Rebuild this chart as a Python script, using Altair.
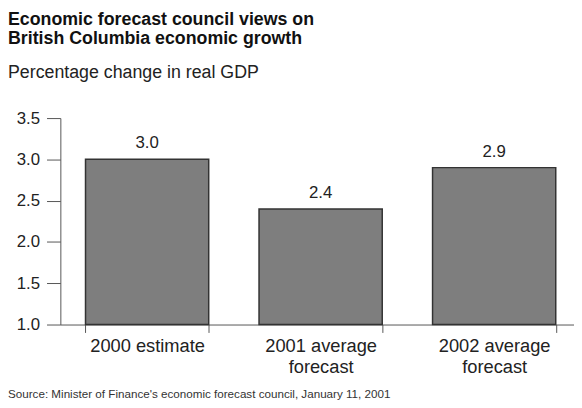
import altair as alt
import pandas as pd

categories = ["2000 estimate", "2001 average forecast", "2002 average forecast"]
values = [3.0, 2.4, 2.9]
y_ticks = [1.0, 1.5, 2.0, 2.5, 3.0, 3.5]
title_lines = ["Economic forecast council views on", "British Columbia economic growth"]
subtitle = "Percentage change in real GDP"
source = "Source: Minister of Finance's economic forecast council, January 11, 2001"

df = pd.DataFrame({"cat": categories, "val": values})
FONT = "Liberation Sans"

x = alt.X(
    "cat:N",
    sort=categories,
    scale=alt.Scale(range=[0, 527], paddingInner=0.29, paddingOuter=0.145),
    axis=alt.Axis(
        title=None, labelAngle=0, tickBand="extent", tickSize=8, labelPadding=4,
        labelFontSize=18.5, labelLineHeight=22, labelFont=FONT, labelColor="#222",
        domainColor="#555", tickColor="#555", labelLimit=300,
        labelExpr="indexof(datum.label, ' forecast') > 0 ? [replace(datum.label, ' forecast', ''), 'forecast'] : datum.label",
    ),
)
y = alt.Y(
    "val:Q",
    scale=alt.Scale(domain=[1, 3.5], zero=False, nice=False),
    axis=alt.Axis(
        title=None, values=y_ticks, format=".1f", grid=False, tickSize=14, labelPadding=7,
        labelFontSize=17, labelFont=FONT, labelColor="#222", domainColor="#555", tickColor="#555",
    ),
)

base = alt.Chart(df)
bars = base.mark_bar(color="#7e7e7e", stroke="#333", strokeWidth=1.5).encode(x=x, y=y, y2=alt.datum(1))
labels = base.mark_text(dy=-16, fontSize=17, font=FONT, color="#222").encode(
    x=x, y=y, text=alt.Text("val:Q", format=".1f")
)
foot = alt.Chart(pd.DataFrame({"t": [source]})).mark_text(
    align="left", baseline="middle", fontSize=11.8, font=FONT, color="#333"
).encode(x=alt.value(-53), y=alt.value(279), text="t:N")

chart = alt.layer(bars, labels, foot).properties(
    width=520, height=209,
    padding={"left": 53, "top": 109, "right": 0, "bottom": 76},
    autosize=alt.AutoSizeParams(type="none"),
    title=alt.TitleParams(
        text=title_lines, subtitle=subtitle, anchor="start", frame="group", dx=-53, offset=28,
        font=FONT, fontSize=18, fontWeight="bold", lineHeight=19, color="#111",
        subtitleFont=FONT, subtitleFontSize=18, subtitleColor="#222", subtitlePadding=16,
    ),
).configure_view(stroke=None)

chart.save("out.html", embed_options={"renderer": "svg", "actions": False})
